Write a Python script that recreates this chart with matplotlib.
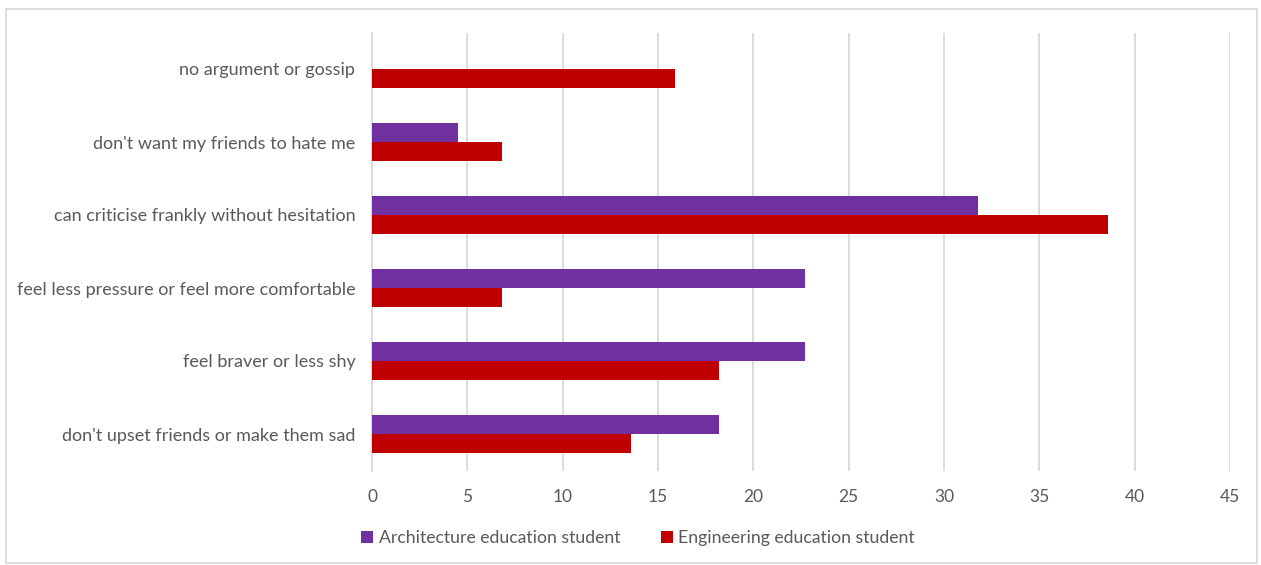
import matplotlib
matplotlib.use("Agg")
import matplotlib.pyplot as plt
from matplotlib.patches import Rectangle

categories = [
    "don't upset friends or make them sad",
    "feel braver or less shy",
    "feel less pressure or feel more comfortable",
    "can criticise frankly without hesitation",
    "don't want my friends to hate me",
    "no argument or gossip",
]
architecture = [18.2, 22.7, 22.7, 31.8, 4.5, 0.0]
engineering = [13.6, 18.2, 6.8, 38.6, 6.8, 15.9]
series_names = ["Architecture education student", "Engineering education student"]
x_ticks = [0, 5, 10, 15, 20, 25, 30, 35, 40, 45]

purple = "#7030A0"
red = "#C00000"
text_color = "#595959"
grid_color = "#d9d9d9"

plt.rcParams["font.family"] = ["Lato", "DejaVu Sans"]

W, H = 1261, 565
fig = plt.figure(figsize=(W / 100, H / 100), dpi=100)
ax = fig.add_axes([372 / W, (H - 470.5) / H, (1230 - 372) / W, (470.5 - 32.5) / H])

bar_h = 0.26
ys = list(range(len(categories)))
ax.barh([y + bar_h / 2 for y in ys], architecture, height=bar_h, color=purple,
        label=series_names[0], zorder=3)
ax.barh([y - bar_h / 2 for y in ys], engineering, height=bar_h, color=red,
        label=series_names[1], zorder=3)

ax.set_xlim(0, 45)
ax.set_ylim(-0.5, len(categories) - 0.5)
ax.set_xticks(x_ticks)
ax.set_xticklabels([str(t) for t in x_ticks])
ax.set_yticks(ys)
ax.set_yticklabels(categories)
ax.xaxis.grid(True, color=grid_color, linewidth=1.3, zorder=0)
ax.set_axisbelow(True)
for side in ["top", "right", "bottom"]:
    ax.spines[side].set_visible(False)
ax.spines["left"].set_color(grid_color)
ax.spines["left"].set_linewidth(1.3)
ax.tick_params(axis="both", length=0, colors=text_color)
ax.tick_params(axis="x", pad=13, labelsize=12.5)
ax.tick_params(axis="y", pad=12, labelsize=13)

handles, labels = ax.get_legend_handles_labels()
fig.legend(handles, labels, loc="center", bbox_to_anchor=(638 / W, 1 - 538 / H),
           ncol=2, frameon=False, fontsize=12.7, labelcolor=text_color,
           handlelength=0.7, handleheight=0.7, handletextpad=0.3, columnspacing=2.3)

fig.patches.append(Rectangle((6 / W, 2 / H), (1257 - 6) / W, (556 - 2) / H,
                             transform=fig.transFigure, fill=False,
                             edgecolor=grid_color, linewidth=1.3))

fig.savefig("out.png", dpi=100, facecolor="white")
